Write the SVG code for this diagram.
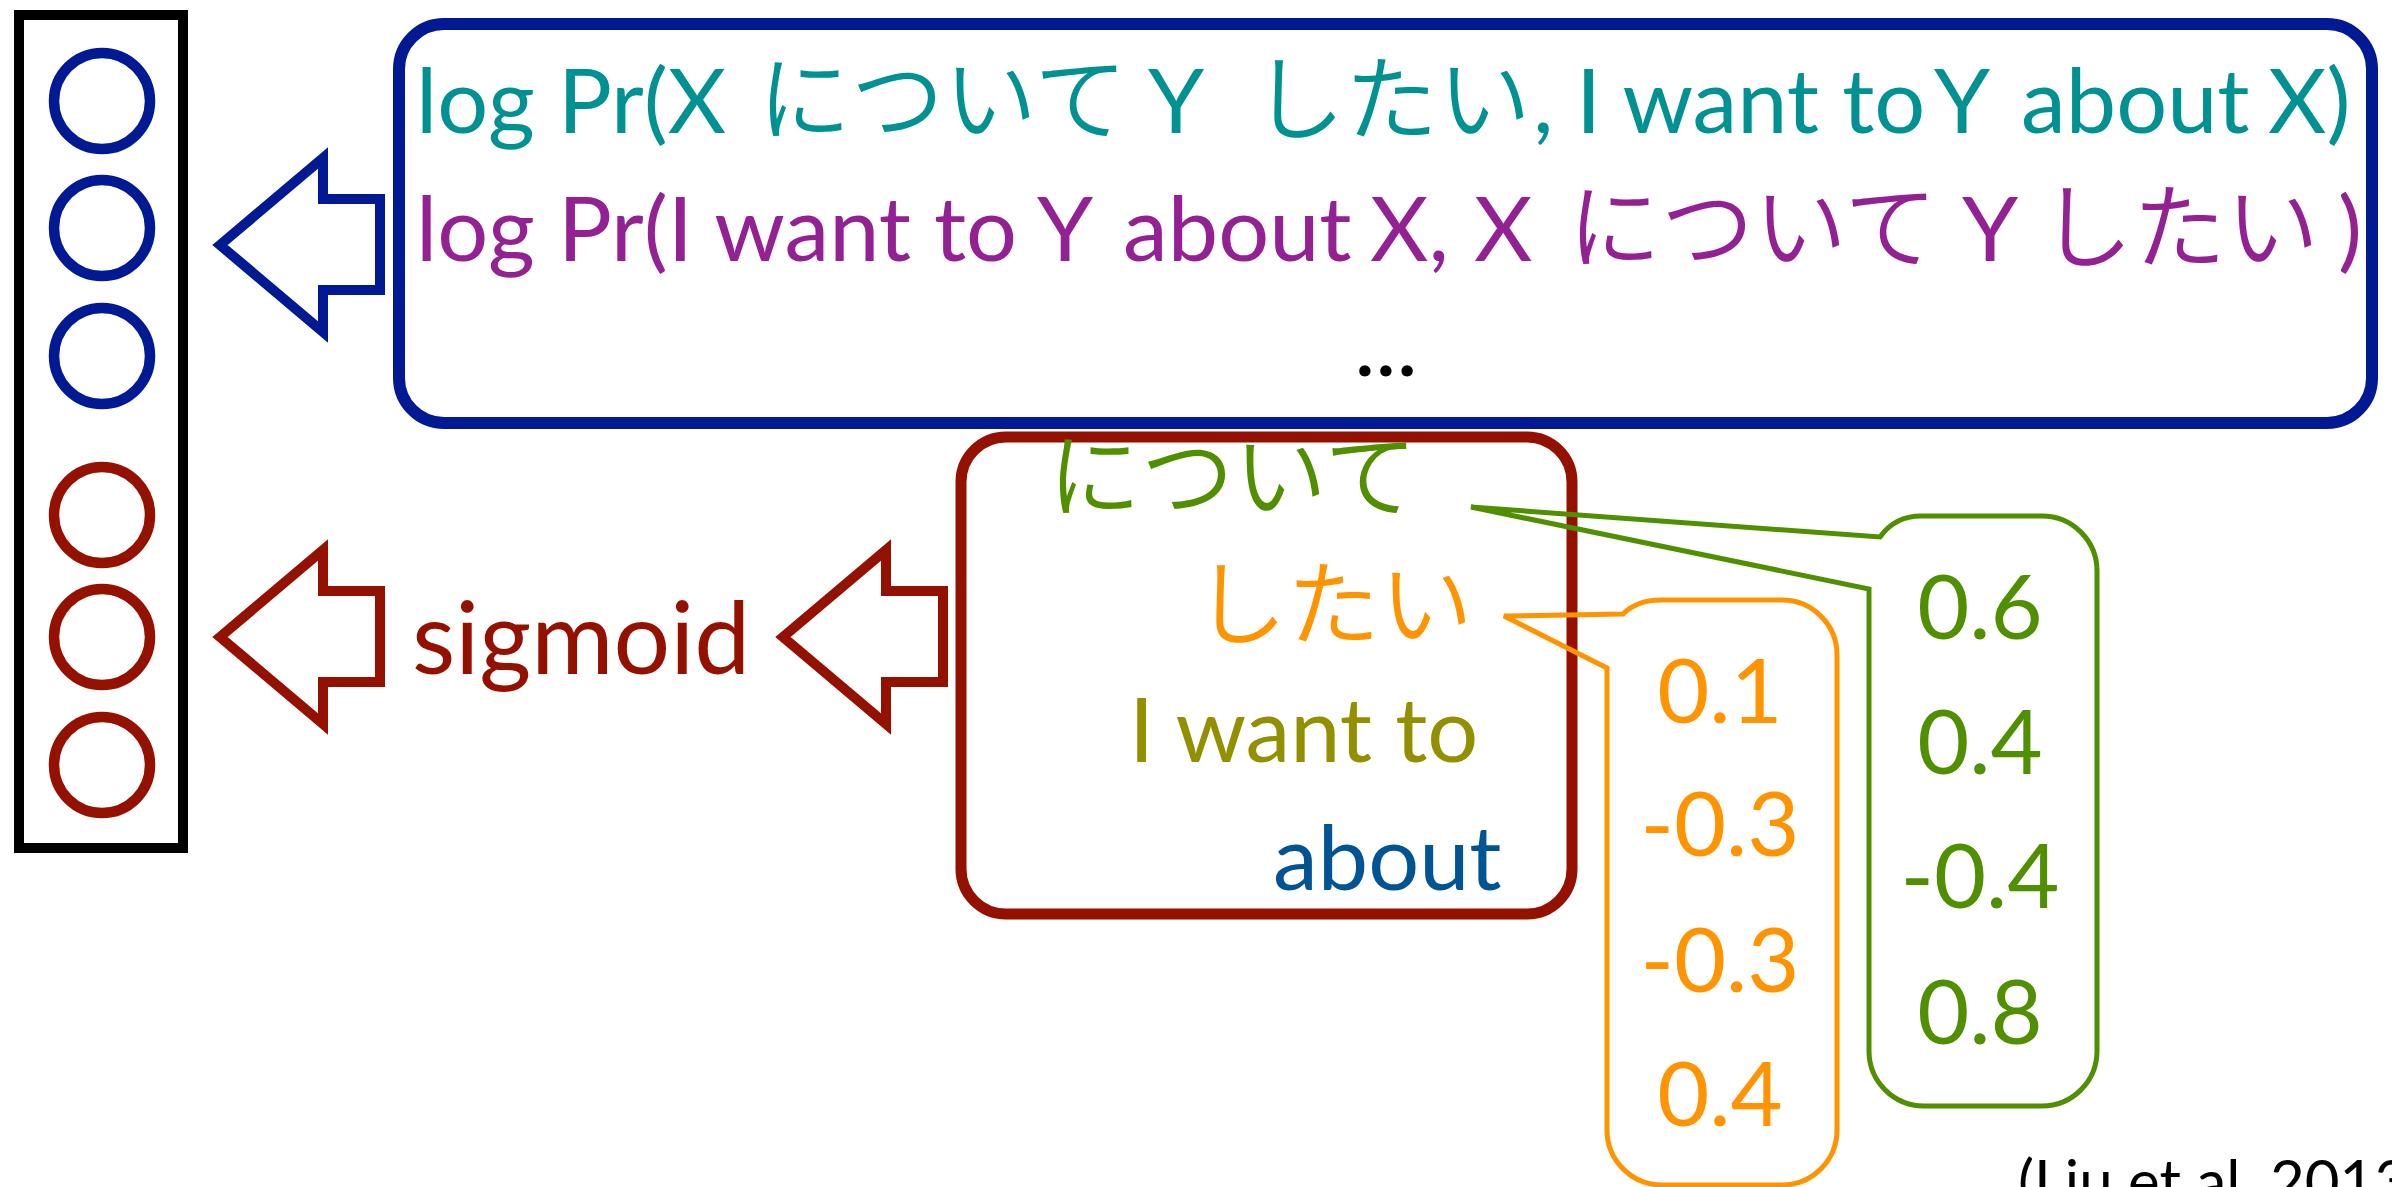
<svg xmlns="http://www.w3.org/2000/svg" xmlns:xlink="http://www.w3.org/1999/xlink" width="2392" height="1187" viewBox="0 0 2392 1187">
<style>
  .lat { font-family: Lato, "Noto Sans CJK JP", sans-serif; font-size: 90px; }
  .ja { font-family: "Noto Sans CJK JP", sans-serif; font-weight: 350; font-size: 93px; }
  .blue { stroke: #011993; fill: none; }
  .red { stroke: #941100; fill: none; }
  .unit { stroke-width: 10.5; }
  .arrow { stroke-width: 10; stroke-linejoin: miter; stroke-miterlimit: 10; fill: #fff; }
  .box { stroke-width: 12; fill: none; }
  .callout { stroke-width: 5; fill: none; stroke-linejoin: miter; }
</style>
<defs>
  <path id="bigArrow" d="M 8 0 L 111 -87 L 111 -46 L 168 -46 L 168 45 L 111 45 L 111 87 Z"/>
</defs>
<rect width="2392" height="1187" fill="#fff"/>

<g id="layer">
  <rect x="19" y="15" width="164" height="833" fill="none" stroke="#000" stroke-width="10"/>
  <circle class="blue unit" cx="102" cy="101" r="48"/>
  <circle class="blue unit" cx="102" cy="228" r="48"/>
  <circle class="blue unit" cx="102" cy="356" r="48"/>
  <circle class="red unit" cx="102" cy="515" r="48"/>
  <circle class="red unit" cx="102" cy="637" r="48"/>
  <circle class="red unit" cx="102" cy="765" r="48"/>
</g>

<g id="connectors">
  <use href="#bigArrow" x="212" y="245" class="arrow" stroke="#011993"/>
  <use href="#bigArrow" x="212" y="637" class="arrow" stroke="#941100"/>
  <use href="#bigArrow" x="775" y="637" class="arrow" stroke="#941100"/>
</g>

<g id="objective">
  <rect x="399" y="24" width="1973" height="399" rx="45" ry="45" class="box" stroke="#011993"/>
  <text class="lat" y="133" fill="#009193"><tspan x="416">log Pr(X</tspan><tspan class="ja" x="758">について</tspan><tspan x="1148">Y</tspan><tspan class="ja" x="1252">したい</tspan><tspan x="1533">,</tspan><tspan x="1576">I want to</tspan><tspan x="1934">Y</tspan><tspan x="2021">about</tspan><tspan x="2268">X)</tspan></text>
  <text class="lat" y="261" fill="#942193"><tspan x="416">log Pr(I want to</tspan><tspan x="1037">Y</tspan><tspan x="1123">about</tspan><tspan x="1370">X,</tspan><tspan x="1474">X</tspan><tspan class="ja" x="1568">について</tspan><tspan x="1962">Y</tspan><tspan class="ja" x="2040">したい</tspan><tspan x="2338">)</tspan></text>
  <text class="lat" x="1386" y="376" text-anchor="middle" fill="#000">...</text>
</g>

<g id="sigmoid">
  <text x="412" y="674" font-family="Lato, sans-serif" font-size="100" fill="#941100">sigmoid</text>
</g>

<g id="phrases">
  <rect x="961" y="437" width="611" height="477" rx="45" ry="45" stroke="#941100" stroke-width="11" fill="none"/>
  <text class="ja" x="1048" y="510" fill="#4F8F00">について</text>
  <text class="ja" x="1194" y="638" fill="#FF9300">したい</text>
  <text class="lat" x="1129" y="762" fill="#929000">I want to</text>
  <text class="lat" x="1273" y="890" fill="#005493">about</text>
</g>

<g id="vec-nitsuite">
  <path class="callout" stroke="#4F8F00" d="M 1471 507 L 1880 537 Q 1895 516 1921 516 L 2042 516 A 55 55 0 0 1 2097 571 L 2097 1051 A 55 55 0 0 1 2042 1106 L 1924 1106 A 55 55 0 0 1 1869 1051 L 1869 589 Z"/>
  <g class="lat" fill="#4F8F00" text-anchor="middle">
    <text x="1980" y="639">0.6</text>
    <text x="1980" y="774">0.4</text>
    <text x="1980" y="908">-0.4</text>
    <text x="1980" y="1044">0.8</text>
  </g>
</g>

<g id="vec-shitai">
  <path class="callout" stroke="#FF9300" d="M 1504 616 L 1623 614 Q 1637 600 1661 600 L 1782 600 A 55 55 0 0 1 1837 655 L 1837 1130 A 55 55 0 0 1 1782 1185 L 1662 1185 A 55 55 0 0 1 1607 1130 L 1607 668 Z"/>
  <g class="lat" fill="#FF9300" text-anchor="middle">
    <text x="1720" y="723">0.1</text>
    <text x="1720" y="856">-0.3</text>
    <text x="1720" y="992">-0.3</text>
    <text x="1720" y="1126">0.4</text>
  </g>
</g>

<g id="citation">
  <text x="2018" y="1203" font-family="Lato, sans-serif" font-size="60" fill="#000">(Liu et al. 2013)</text>
</g>
</svg>
